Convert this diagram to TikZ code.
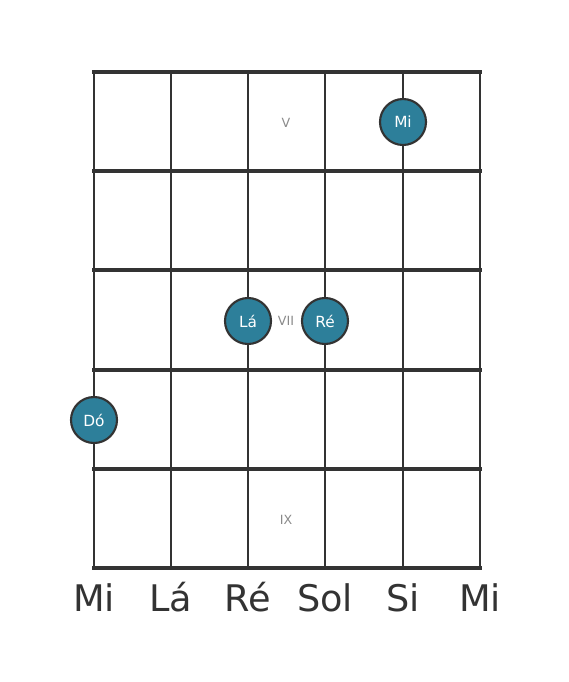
\documentclass[tikz,border=0pt]{standalone}
\usepackage{fontspec}
\setmainfont{DejaVu Sans}
\definecolor{ln}{HTML}{333333}
\definecolor{dotc}{HTML}{2D7F9A}
\definecolor{rom}{HTML}{8A8A8A}
\begin{document}
\begin{tikzpicture}[x=0.75pt,y=-0.75pt,
  fret/.style={draw=ln,line width=3pt},
  strg/.style={draw=ln,line width=2.2pt},
  notedot/.style={circle,fill=dotc,draw=ln,line width=1.6pt,minimum size=34.5pt,inner sep=0pt,text=white,font=\fontsize{11.5}{13}\selectfont},
  romlab/.style={text=rom,font=\fontsize{9.5}{11}\selectfont,inner sep=0pt},
  strlab/.style={text=ln,font=\fontsize{27.5}{30}\selectfont,inner sep=0pt}]
\useasboundingbox (0,0) rectangle (568,682);
\foreach \x/\n in {94/s1,171/s2,248/s3,325/s4,403/s5,480/s6}{
  \coordinate (\n t) at (\x,72);
  \coordinate (\n b) at (\x,568);
  \draw[strg] (\n t) -- (\n b);
}
\foreach \y/\n in {72/f0,171/f1,270/f2,370/f3,469/f4,568/f5}{
  \coordinate (\n l) at (94,\y);
  \coordinate (\n r) at (480,\y);
  \draw[fret,line cap=rect] (\n l) -- (\n r);
}
\node[romlab] (r5) at (286,123) {V};
\node[romlab] (r7) at (286,321) {VII};
\node[romlab] (r9) at (286,520) {IX};
\node[notedot] (d1) at (403,122) {Mi};
\node[notedot] (d2) at (248,321) {Lá};
\node[notedot] (d3) at (325,321) {Ré};
\node[notedot] (d4) at (94,420) {Dó};
\foreach \x/\t/\n in {94/Mi/l1,171/Lá/l2,248/Ré/l3,325/Sol/l4,403/Si/l5,480/Mi/l6}{
  \node[strlab,anchor=base] (\n) at (\x,611) {\t};
}
\end{tikzpicture}
\end{document}
